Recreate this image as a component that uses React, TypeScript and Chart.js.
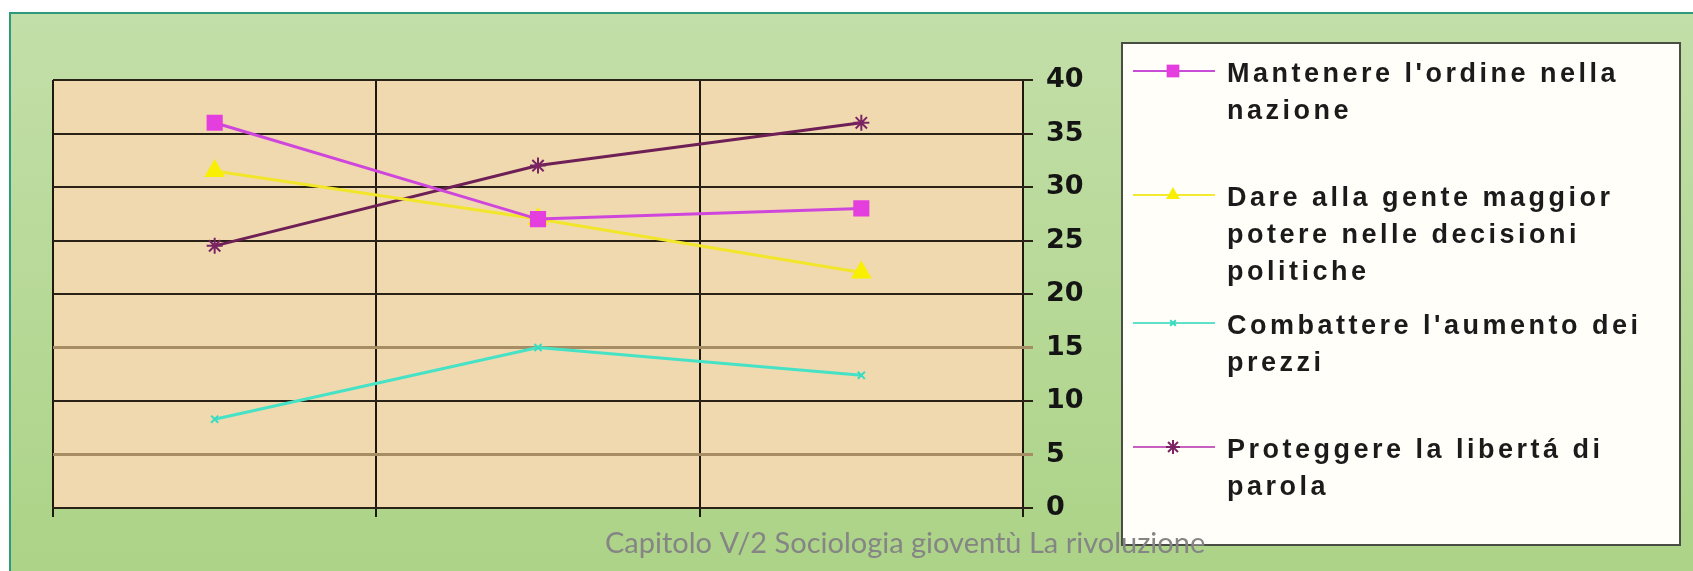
import React, { useEffect, useRef } from 'react';
import { Chart, registerables } from 'chart.js';

Chart.register(...registerables);

// ---- data ----
const categories = ['1', '2', '3'];
const seriesNames = [
  "Mantenere l'ordine nella nazione",
  'Dare alla gente maggior potere nelle decisioni politiche',
  "Combattere l'aumento dei prezzi",
  'Proteggere la libertá di parola',
];
const mantenereValues = [36, 27, 28];
const dareValues = [31.5, 27, 22];
const combattereValues = [8.3, 15, 12.4];
const proteggereValues = [24.5, 32, 36];
const yTickValues = [0, 5, 10, 15, 20, 25, 30, 35, 40];
const legendLines = [
  ["Mantenere l'ordine nella", 'nazione'],
  ['Dare alla gente maggior', 'potere nelle decisioni', 'politiche'],
  ["Combattere l'aumento dei", 'prezzi'],
  ['Proteggere la libertá di', 'parola'],
];
const captionText = 'Capitolo V/2 Sociologia gioventù La rivoluzione';

// ---- styles ----
const lineColors = ['#cf46dc', '#f2e62a', '#45e2c6', '#6e1f55'];
const markerFills = ['#e43ede', '#f8f000', '#35dcc2', '#7b2463'];
const markerStyles = ['rect', 'triangle', 'crossRot', 'star'];
const markerRadii = [10, 10, 5, 8];
const legendMarkerRadii = [9, 8, 4, 7];
const legendLineColors = ['#c84cd8', '#f4ea30', '#5fe0c8', '#c860c0'];

const LEG = {
  left: 1122, top: 43, right: 1680, bottom: 545,
  lineX0: 1133, lineX1: 1215, markerX: 1173, textX: 1227, lineHeight: 37,
  baselines: [82, 206, 334, 458],
};

function drawMarker(ctx: CanvasRenderingContext2D, style: string, x: number, y: number, r: number, fill: string) {
  ctx.save();
  ctx.fillStyle = fill;
  ctx.strokeStyle = fill;
  ctx.lineWidth = 2;
  ctx.beginPath();
  if (style === 'rect') {
    const s = r * Math.SQRT1_2;
    ctx.rect(x - s, y - s, 2 * s, 2 * s);
    ctx.fill();
  } else if (style === 'triangle') {
    ctx.moveTo(x, y - r);
    ctx.lineTo(x + r * 0.866, y + r * 0.5);
    ctx.lineTo(x - r * 0.866, y + r * 0.5);
    ctx.closePath();
    ctx.fill();
  } else if (style === 'crossRot') {
    const s = r * Math.SQRT1_2;
    ctx.moveTo(x - s, y - s); ctx.lineTo(x + s, y + s);
    ctx.moveTo(x - s, y + s); ctx.lineTo(x + s, y - s);
    ctx.stroke();
  } else if (style === 'star') {
    const s = r * Math.SQRT1_2;
    ctx.moveTo(x - s, y - s); ctx.lineTo(x + s, y + s);
    ctx.moveTo(x - s, y + s); ctx.lineTo(x + s, y - s);
    ctx.moveTo(x, y - r); ctx.lineTo(x, y + r);
    ctx.moveTo(x - r, y); ctx.lineTo(x + r, y);
    ctx.stroke();
  }
  ctx.restore();
}

const decorPlugin = {
  id: 'decor',
  beforeDraw(chart: any) {
    const { ctx, chartArea: a, width, height } = chart;
    ctx.save();
    ctx.fillStyle = '#ffffff';
    ctx.fillRect(0, 0, width, height);
    const g = ctx.createLinearGradient(0, 12, 0, height);
    g.addColorStop(0, '#c3dfa9');
    g.addColorStop(1, '#acd387');
    ctx.fillStyle = g;
    ctx.fillRect(9, 12, width, height);
    ctx.strokeStyle = '#2f9a7a';
    ctx.lineWidth = 2;
    ctx.beginPath();
    ctx.moveTo(10, height + 5);
    ctx.lineTo(10, 13);
    ctx.lineTo(width + 5, 13);
    ctx.stroke();
    ctx.fillStyle = '#f0d9ae';
    ctx.fillRect(a.left, a.top, a.right - a.left, a.bottom - a.top);
    ctx.restore();
  },
  afterDraw(chart: any) {
    const ctx: CanvasRenderingContext2D = chart.ctx;
    ctx.save();
    // legend box
    ctx.fillStyle = '#fffef9';
    ctx.fillRect(LEG.left, LEG.top, LEG.right - LEG.left, LEG.bottom - LEG.top);
    ctx.strokeStyle = '#4a4d44';
    ctx.lineWidth = 2;
    ctx.strokeRect(LEG.left, LEG.top, LEG.right - LEG.left, LEG.bottom - LEG.top);
    legendLines.forEach((lines, i) => {
      const base = LEG.baselines[i];
      const my = base - 11;
      ctx.strokeStyle = legendLineColors[i];
      ctx.lineWidth = 2;
      ctx.beginPath();
      ctx.moveTo(LEG.lineX0, my);
      ctx.lineTo(LEG.lineX1, my);
      ctx.stroke();
      drawMarker(ctx, markerStyles[i], LEG.markerX, my, legendMarkerRadii[i], markerFills[i]);
      ctx.fillStyle = '#1b1b1b';
      ctx.font = 'bold 27px "Liberation Sans"';
      (ctx as any).letterSpacing = '3.5px';
      ctx.textAlign = 'left';
      ctx.textBaseline = 'alphabetic';
      lines.forEach((t, j) => ctx.fillText(t, LEG.textX, base + j * LEG.lineHeight));
    });
    (ctx as any).letterSpacing = '0px';
    // caption
    ctx.fillStyle = '#858585';
    ctx.font = '29px Lato';
    ctx.textAlign = 'left';
    ctx.textBaseline = 'alphabetic';
    ctx.fillText(captionText, 605, 553);
    ctx.restore();
  },
};

const darkGrid = '#2a2216';
const brownGrid = '#a68d63';

export default function App() {
  const ref = useRef<HTMLCanvasElement>(null);
  useEffect(() => {
    const valuesList = [mantenereValues, dareValues, combattereValues, proteggereValues];
    const chart = new Chart(ref.current as HTMLCanvasElement, {
      type: 'line',
      data: {
        labels: categories,
        datasets: valuesList.map((vals, i) => ({
          label: seriesNames[i],
          data: vals,
          borderColor: lineColors[i],
          borderWidth: 3,
          backgroundColor: markerFills[i],
          pointStyle: markerStyles[i] as any,
          pointRadius: markerRadii[i],
          pointBackgroundColor: markerFills[i],
          pointBorderColor: markerFills[i],
          pointBorderWidth: 2,
          tension: 0,
          fill: false,
        })),
      },
      options: {
        animation: false,
        responsive: false,
        devicePixelRatio: 1,
        layout: { padding: { left: 53, top: 80, right: 0, bottom: 54 } },
        plugins: {
          legend: { display: false },
          tooltip: { enabled: false },
          title: { display: false },
        },
        scales: {
          x: {
            type: 'category',
            offset: true,
            grid: {
              offset: true,
              color: (c: any) => (c.index === categories.length ? '#8a7a5c' : '#1f180c'),
              lineWidth: (c: any) => (c.index === categories.length ? 1.5 : 2),
              tickLength: 9,
              drawTicks: true,
            },
            border: { display: true, color: '#2a2216', width: 2 },
            ticks: { display: false },
          },
          y: {
            position: 'right',
            min: 0,
            max: 40,
            afterFit: (s: any) => { s.width = 670; },
            afterBuildTicks: (s: any) => { s.ticks = yTickValues.map((v) => ({ value: v })); },
            grid: {
              color: (c: any) => (c.tick && (c.tick.value === 15 || c.tick.value === 5) ? brownGrid : darkGrid),
              lineWidth: (c: any) => (c.tick && (c.tick.value === 15 || c.tick.value === 5) ? 3 : 2),
              tickLength: 10,
            },
            border: { display: false },
            ticks: {
              padding: 13,
              color: '#141414',
              font: { family: 'DejaVu Sans', size: 27, weight: 'bold' },
            },
          },
        },
      },
      plugins: [decorPlugin],
    } as any);
    return () => chart.destroy();
  }, []);
  return (
    <div style={{ position: 'absolute', left: 0, top: 0, width: 1693, height: 571, overflow: 'hidden' }}>
      <canvas ref={ref} width={1693} height={571} style={{ display: 'block', width: 1693, height: 571 }} />
    </div>
  );
}
